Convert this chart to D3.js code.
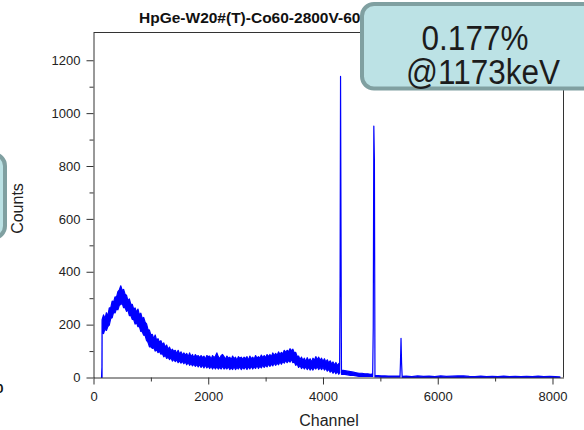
<!DOCTYPE html>
<html><head><meta charset="utf-8">
<script src="https://cdn.jsdelivr.net/npm/d3@7"></script>
<style>body{margin:0;background:#fff}svg{display:block}</style>
</head><body><svg id="c" width="584" height="430"></svg>
<script>
// ---- data (per-bin min / max counts of the spectrum) ----
const channels = [
  140,147,149,
  150,175,200,225,250,275,300,325,350,375,
  400,425,450,475,500,525,550,575,600,625,
  650,675,700,725,750,775,800,825,850,875,
  900,925,950,975,1000,1025,1050,1075,1100,1125,
  1150,1175,1200,1225,1250,1275,1300,1325,1350,1375,
  1400,1425,1450,1475,1500,1525,1550,1575,1600,1625,
  1650,1675,1700,1725,1750,1775,1800,1825,1850,1875,
  1900,1925,1950,1975,2000,2025,2050,2075,2100,2125,
  2150,2175,2200,2225,2250,2275,2300,2325,2350,2375,
  2400,2425,2450,2475,2500,2525,2550,2575,2600,2625,
  2650,2675,2700,2725,2750,2775,2800,2825,2850,2875,
  2900,2925,2950,2975,3000,3025,3050,3075,3100,3125,
  3150,3175,3200,3225,3250,3275,3300,3325,3350,3375,
  3400,3425,3450,3475,3500,3525,3550,3575,3600,3625,
  3650,3675,3700,3725,3750,3775,3800,3825,3850,3875,
  3900,3925,3950,3975,4000,4025,4050,4075,4100,4125,
  4150,4175,4200,4225,4250,4275,4290,
  4298,4306,4314,4322,4380,4430,4480,4530,4580,4630,4680,4730,4780,4830,4866,
  4876,4886,4896,
  4906,4960,5020,5080,5140,5200,5260,5320,5342,
  5350,5360,5370,
  5380,5450,5550,5650,5750,5850,5950,6050,6150,6250,
  6350,6450,6550,6650,6750,6850,6950,7050,7150,7250,
  7350,7450,7550,7650,7750,7850,7950,8050,8130
];
const countsLow = [
  0,0,0,
  171,166,183,178,193,198,223,226,246,244,
  259,256,273,276,281,264,265,250,255,234,
  235,220,219,202,207,192,193,174,173,160,
  159,140,133,116,117,110,113,100,105,94,
  99,88,91,78,85,72,77,68,75,62,
  69,60,67,56,63,54,61,52,59,48,
  57,46,53,44,51,42,49,40,49,38,
  47,36,47,36,43,34,43,32,41,32,
  41,32,39,32,43,32,39,32,41,30,
  37,30,41,30,39,32,41,30,39,32,
  41,30,41,32,43,32,41,34,45,34,
  43,36,47,38,47,40,51,42,51,44,
  55,46,55,48,59,50,61,54,65,56,
  65,58,69,56,59,46,51,38,45,34,
  41,32,41,30,39,28,37,28,39,32,
  41,30,39,30,39,28,35,24,31,20,
  27,16,25,14,23,12,18,
  375,1139,564,12,12,10,8,8,6,4,4,4,4,4,4,
  190,951,825,
  2,2,1,1,1,1,1,1,1,
  54,148,54,
  0,0,0,0,0,0,0,0,0,0,
  0,0,0,0,0,0,0,0,0,0,
  0,0,0,0,0,0,0,0,0
];
const countsHigh = [
  0,40,205,
  219,237,223,245,233,263,263,289,285,305,
  303,325,331,347,329,333,315,311,291,297,
  277,277,259,263,247,259,237,243,223,227,
  209,203,181,179,161,163,147,161,141,147,
  133,139,125,131,115,123,107,115,101,107,
  99,103,91,103,89,97,85,93,85,91,
  79,93,79,87,75,87,79,83,75,83,
  75,81,69,83,79,81,69,83,75,81,
  93,79,71,83,87,79,69,81,73,77,
  67,81,71,77,65,79,73,77,69,77,
  71,79,65,81,71,77,69,83,73,79,
  73,85,75,83,75,87,79,87,79,93,
  83,91,83,97,87,95,89,103,95,103,
  97,109,101,107,93,95,79,81,67,77,
  65,73,61,75,63,71,59,73,65,79,
  67,77,65,73,61,71,59,67,55,63,
  51,59,47,57,45,53,44,
  375,1139,564,28,26,24,22,20,18,16,16,14,14,12,14,
  190,951,825,
  8,7,6,6,5,5,5,5,5,
  54,148,54,
  4,5,3,6,4,5,3,6,4,5,
  6,6,4,3,5,3,4,3,5,3,
  4,3,4,3,5,3,4,3,2
];
const xTicks = [0, 2000, 4000, 6000, 8000];
const xMinorTicks = [1000, 3000, 5000, 7000];
const yTicks = [0, 200, 400, 600, 800, 1000, 1200];
const yMinorTicks = [100, 300, 500, 700, 900, 1100];
const titleText = "HpGe-W20#(T)-Co60-2800V-600s";
const xLabel = "Channel";
const yLabel = "Counts";
const noteLines = ["0.177%", "@1173keV"];

// ---- drawing ----
const FONT = "'Liberation Sans', Arial, sans-serif";
const svg = d3.select("#c");
const x = d3.scaleLinear().domain([0, 8192]).range([93.5, 563.5]);
const y = d3.scaleLinear().domain([0, 1305]).range([377.5, 32.5]);

svg.append("text").attr("x", 139).attr("y", 23)
  .attr("font-family", FONT).attr("font-weight", "bold").attr("font-size", 15.5)
  .attr("fill", "#111").text(titleText);

svg.append("path")
  .attr("d", `M${x.range()[0]},${y.range()[1]}H${x.range()[1]}V${y.range()[0]}`)
  .attr("fill", "none").attr("stroke", "#333").attr("stroke-width", 1);

const n = Math.min(channels.length, countsLow.length, countsHigh.length);
const idx = d3.range(n);
svg.append("path").datum(idx)
  .attr("d", d3.area().x(i => x(channels[i])).y0(i => y(countsLow[i])).y1(i => y(countsHigh[i])))
  .attr("fill", "#0000ff").attr("stroke", "#0000ff").attr("stroke-width", 1.2)
  .attr("stroke-linejoin", "round");

function styleAxis(g) {
  g.selectAll("path.domain").attr("stroke", "#333");
  g.selectAll(".tick line").attr("stroke", "#333");
  g.selectAll(".tick text").attr("font-family", FONT).attr("font-size", 13).attr("fill", "#222");
}
const gx = svg.append("g").attr("transform", `translate(0,${y(0)})`)
  .call(d3.axisBottom(x).tickValues(xTicks).tickSize(7).tickSizeOuter(0).tickPadding(7).tickFormat(d3.format("d")));
styleAxis(gx);
const gxm = svg.append("g").attr("transform", `translate(0,${y(0)})`)
  .call(d3.axisBottom(x).tickValues(xMinorTicks).tickSize(4).tickFormat(""));
gxm.select("path.domain").remove(); styleAxis(gxm);
const gy = svg.append("g").attr("transform", `translate(${x(0)},0)`)
  .call(d3.axisLeft(y).tickValues(yTicks).tickSize(7).tickSizeOuter(0).tickPadding(6).tickFormat(d3.format("d")));
styleAxis(gy);
const gym = svg.append("g").attr("transform", `translate(${x(0)},0)`)
  .call(d3.axisLeft(y).tickValues(yMinorTicks).tickSize(4).tickFormat(""));
gym.select("path.domain").remove(); styleAxis(gym);

svg.append("text").attr("x", 329).attr("y", 426).attr("text-anchor", "middle")
  .attr("font-family", FONT).attr("font-size", 16).attr("fill", "#222").text(xLabel);
svg.append("text").attr("transform", "translate(23,208.5) rotate(-90)").attr("text-anchor", "middle")
  .attr("font-family", FONT).attr("font-size", 16).attr("fill", "#222").text(yLabel);

// neighbouring slide fragments
svg.append("rect").attr("x", -120).attr("y", 154).attr("width", 125).attr("height", 84).attr("rx", 12)
  .attr("fill", "#bce2e5").attr("stroke", "#80a0a1").attr("stroke-width", 4);
svg.append("text").attr("x", 3.5).attr("y", 393).attr("text-anchor", "end")
  .attr("font-family", FONT).attr("font-weight", "bold").attr("font-size", 13).attr("fill", "#111").text("0");

// annotation box
svg.append("rect").attr("x", 362).attr("y", 4).attr("width", 260).attr("height", 84.5).attr("rx", 12)
  .attr("fill", "#bce2e5").attr("stroke", "#80a0a1").attr("stroke-width", 4);
const notePos = [[475, 49.5], [483, 83.5]];
noteLines.forEach((t, i) => {
  svg.append("text").attr("transform", `translate(${notePos[i][0]},${notePos[i][1]}) scale(1,1.1)`)
    .attr("text-anchor", "middle").attr("font-family", FONT).attr("font-size", 31.5)
    .attr("fill", "#1c1c1c").text(t);
});
</script></body></html>
